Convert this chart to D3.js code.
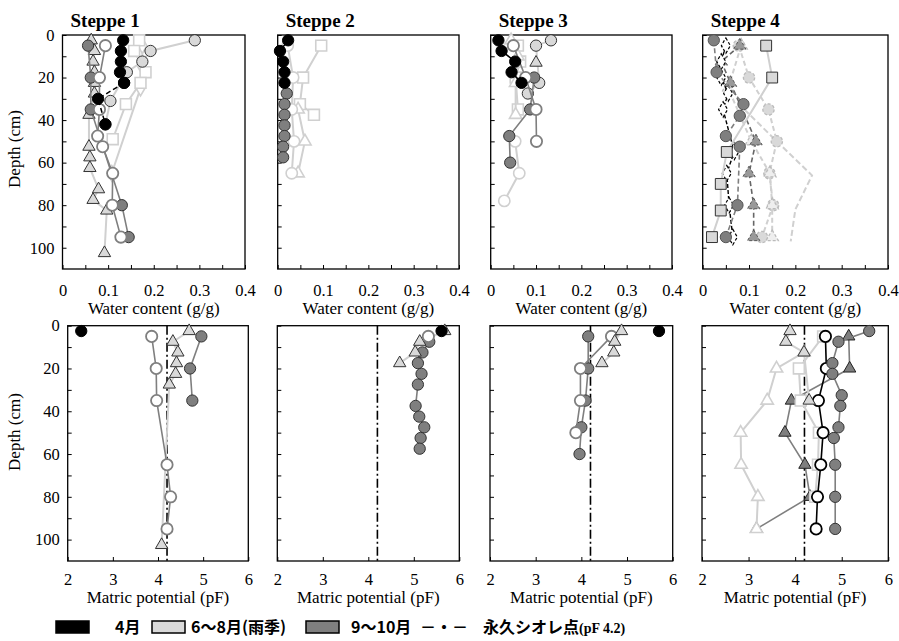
<!DOCTYPE html>
<html><head><meta charset="utf-8">
<script src="https://cdn.jsdelivr.net/npm/d3@7"></script>
<style>body{margin:0;background:#fff}</style>
</head><body><svg id="c" width="899" height="641"></svg>
<script>
// ---------------- DATA ----------------
const panelTitles = ["Steppe 1", "Steppe 2", "Steppe 3", "Steppe 4"];
const depthTicks = [0, 20, 40, 60, 80, 100];
const depthMinor = [0,10,20,30,40,50,60,70,80,90,100];
const wcTicks = [0, 0.1, 0.2, 0.3, 0.4];
const wcMinor = [0,0.05,0.1,0.15,0.2,0.25,0.3,0.35,0.4];
const pfTicks = [2, 3, 4, 5, 6];
const wiltingPoint = 4.2;
const legendLabels = ["4月", "6～8月(雨季)", "9～10月", "永久シオレ点"];
const xTitleTop = "Water content (g/g)";
const xTitleBottom = "Matric potential (pF)";
const yTitle = "Depth (cm)";

// Steppe 1 water content
const w1AprD = [2.5, 7.5, 12.5, 17.5, 22.5];
const w1AprV = [0.133, 0.128, 0.128, 0.126, 0.135];
const w1AprDashD = [22.5, 30, 42];
const w1AprDashV = [0.135, 0.078, 0.094];
const w1RainDotD = [2.5, 7.5, 12.5, 17.5, 31, 42];
const w1RainDotV = [0.29, 0.193, 0.175, 0.141, 0.105, 0.094];
const w1RainBoxD = [2.5, 7.5, 17.5, 22.5, 32.5, 49];
const w1RainBoxV = [0.168, 0.157, 0.182, 0.171, 0.139, 0.11];
const w1RainDiaD = [5, 15, 25, 65];
const w1RainDiaV = [0.175, 0.175, 0.171, 0.108];
const w1RainTriD = [2.5, 7.5, 12.5, 17.5, 22.5, 27.5, 37.5, 52.5, 57.5, 62.5, 72.5, 77.5, 82.5, 102.5];
const w1RainTriV = [0.063, 0.07, 0.067, 0.07, 0.07, 0.07, 0.058, 0.058, 0.06, 0.06, 0.079, 0.067, 0.097, 0.092];
const w1SepDotD = [5, 20, 35, 80, 95];
const w1SepDotV = [0.056, 0.062, 0.062, 0.13, 0.145];
const w1SepRingD = [5, 20, 35, 47.5, 52.5, 65, 80, 95];
const w1SepRingV = [0.094, 0.081, 0.081, 0.077, 0.088, 0.11, 0.109, 0.128];

// Steppe 2 water content
const w2AprD = [2.5, 7.5, 12.5, 17.5, 22.5];
const w2AprV = [0.023, 0.005, 0.012, 0.015, 0.015];
const w2SepDotD = [27.5, 32.5, 37.5, 42.5, 47.5, 52.5, 57.5];
const w2SepDotV = [0.02, 0.015, 0.015, 0.015, 0.015, 0.012, 0.012];
const w2RainBoxD = [5, 20, 32.5, 37.5];
const w2RainBoxV = [0.096, 0.056, 0.049, 0.08];
const w2RainRingD = [5, 20, 35, 50, 65];
const w2RainRingV = [0.022, 0.034, 0.031, 0.036, 0.031];
const w2RainTriD = [35, 50, 65];
const w2RainTriV = [0.045, 0.06, 0.045];

// Steppe 3 water content
const w3AprD = [2.5, 7.5, 12.5, 17.5, 22.5];
const w3AprV = [0.017, 0.024, 0.054, 0.046, 0.068];
const w3RainBoxD = [5, 12.5, 20, 35];
const w3RainBoxV = [0.06, 0.065, 0.055, 0.06];
const w3RainTriOpenD = [2.5, 10, 22.5, 37.5];
const w3RainTriOpenV = [0.045, 0.06, 0.055, 0.055];
const w3RainDotD = [2.5, 5, 22.5, 27.5];
const w3RainDotV = [0.133, 0.1, 0.107, 0.082];
const w3RainRingD = [50, 65, 78];
const w3RainRingV = [0.054, 0.063, 0.03];
const w3RainTriD = [13];
const w3RainTriV = [0.1];
const w3SepRingD = [5, 20, 35, 50];
const w3SepRingV = [0.05, 0.077, 0.1, 0.101];
const w3SepDotD = [20, 35, 47.5, 60];
const w3SepDotV = [0.096, 0.087, 0.041, 0.043];

// Steppe 4 water content
const w4RainFarD = [35, 50, 66, 82, 97];
const w4RainFarV = [0.09, 0.16, 0.236, 0.2, 0.19];
const w4RainDotDashD = [5, 20, 35, 50, 65, 80, 95];
const w4RainDotDashV = [0.078, 0.1, 0.142, 0.16, 0.144, 0.152, 0.128];
const w4RainTriDashD = [5, 25, 50, 65, 80, 95];
const w4RainTriDashV = [0.083, 0.055, 0.105, 0.145, 0.15, 0.15];
const w4SepTriDashD = [5, 12.5, 22.5, 50, 65, 80, 95];
const w4SepTriDashV = [0.08, 0.04, 0.06, 0.115, 0.1, 0.11, 0.11];
const w4BlackDiaD = [5, 12.5, 20, 27.5, 35, 55, 65, 80, 95];
const w4BlackDiaV = [0.05, 0.04, 0.04, 0.055, 0.044, 0.068, 0.052, 0.057, 0.065];
const w4SepDotD = [2.5, 17.5, 32.5, 38, 47.5, 52.5, 80, 95];
const w4SepDotV = [0.024, 0.03, 0.088, 0.08, 0.05, 0.08, 0.075, 0.05];
const w4RainBoxD = [5, 20, 55, 70, 82.5, 95];
const w4RainBoxV = [0.137, 0.15, 0.052, 0.039, 0.039, 0.02];

// Steppe 1 matric potential
const p1AprD = [2.5];
const p1AprV = [2.3];
const p1RainTriD = [2.5, 7.5, 12.5, 17.5, 22.5, 27.5, 102.5];
const p1RainTriV = [4.69, 4.33, 4.44, 4.41, 4.39, 4.25, 4.08];
const p1SepRingD = [5, 20, 35, 65, 80, 95];
const p1SepRingV = [3.86, 3.96, 3.97, 4.2, 4.28, 4.2];
const p1SepDotD = [5, 20, 35];
const p1SepDotV = [4.96, 4.71, 4.76];

// Steppe 2 matric potential
const p2SepDotD = [7.5, 12.5, 17.5, 22.5, 27.5, 37.5, 42.5, 47.5, 52.5, 57.5];
const p2SepDotV = [5.34, 5.19, 5.09, 5.17, 5.09, 5.04, 5.12, 5.23, 5.15, 5.13];
const p2SepRingD = [5];
const p2SepRingV = [5.32];
const p2RainTriD = [2.5, 7.5, 12.5, 17.5];
const p2RainTriV = [5.68, 5.13, 5.03, 4.69];
const p2AprD = [2.5];
const p2AprV = [5.61];

// Steppe 3 matric potential
const p3SepDotD = [5, 20, 35, 47.5, 60];
const p3SepDotV = [4.15, 4.15, 4.09, 4.0, 3.96];
const p3SepRingD = [5, 20, 35, 50];
const p3SepRingV = [4.66, 3.98, 3.98, 3.88];
const p3RainTriD = [2.5, 7.5, 12.5, 17.5];
const p3RainTriV = [4.88, 4.73, 4.71, 4.45];
const p3AprD = [2.5];
const p3AprV = [5.7];

// Steppe 4 matric potential
const p4RainTriOpenD = [12.5, 20, 35, 50, 65, 80, 95];
const p4RainTriOpenV = [4.19, 3.6, 3.4, 2.83, 2.84, 3.2, 3.17];
const p4SepTriD = [5, 20, 35, 50, 65, 80, 95];
const p4SepTriV = [5.15, 5.17, 3.92, 3.78, 4.21, 4.32, 3.17];
const p4SepDotD = [2.5, 7.5, 17.5, 22.5, 32.5, 37.5, 47.5, 52.5, 65, 80, 95];
const p4SepDotV = [5.59, 4.93, 4.8, 4.8, 5.0, 4.97, 4.93, 4.83, 4.86, 4.86, 4.86];
const p4BlackRingD = [5, 20, 35, 50, 65, 80, 95];
const p4BlackRingV = [4.65, 4.67, 4.5, 4.6, 4.55, 4.48, 4.45];
const p4RainBoxD = [5, 20, 35, 50, 65, 80];
const p4RainBoxV = [4.6, 4.08, 4.12, 4.51, 4.49, 4.43];
const p4RainTriD = [2.5, 7.5, 12.5, 35];
const p4RainTriV = [3.89, 3.8, 4.19, 4.3];

// ---------------- STYLES ----------------
const LG = "#d0d0d0", LF = "#d9d9d9", DG = "#7f7f7f";
const styles = {
  apr:      {shape:"circle", fill:"#000", stroke:"#000", sw:1, line:"#000", lw:1.5},
  aprDash:  {shape:"circle", fill:"#000", stroke:"#000", sw:1, line:"#000", lw:1.5, dash:"5,3"},
  rainDot:  {shape:"circle", fill:LF, stroke:"#333", sw:1, line:LG, lw:2},
  rainRing: {shape:"circle", fill:"#fff", stroke:LG, sw:1.6, line:LG, lw:2},
  rainBox:  {shape:"square", fill:"#fff", stroke:LG, sw:1.6, line:LG, lw:2},
  rainBoxF: {shape:"square", fill:LF, stroke:"#333", sw:1, line:LG, lw:2},
  rainTri:  {shape:"triangle", fill:LF, stroke:"#333", sw:1, line:LG, lw:2},
  rainTriO: {shape:"triangle", fill:"#fff", stroke:LG, sw:1.6, line:LG, lw:2},
  rainDia:  {shape:"diamond", fill:"#fff", stroke:LG, sw:1.6, line:LG, lw:2},
  rainDotDash: {shape:"circle", fill:LF, stroke:"#bbb", sw:1.3, line:LG, lw:2, dash:"5,3", mdash:"3,2"},
  rainTriDash: {shape:"triangle", fill:"#eee", stroke:"#bbb", sw:1.3, line:LG, lw:2, dash:"5,3", mdash:"3,2"},
  rainFar:  {shape:null, line:LG, lw:2, dash:"6,3"},
  sepDot:   {shape:"circle", fill:DG, stroke:"#333", sw:1, line:DG, lw:1.6},
  sepDotDash: {shape:"circle", fill:DG, stroke:"#555", sw:1, line:DG, lw:1.6, dash:"5,3"},
  sepRing:  {shape:"circle", fill:"#fff", stroke:DG, sw:1.8, line:DG, lw:1.6},
  sepTri:   {shape:"triangle", fill:DG, stroke:"#222", sw:1, line:DG, lw:1.6},
  sepTriDash: {shape:"triangle", fill:"#999", stroke:"#555", sw:1, line:"#666", lw:1.6, dash:"5,3", mdash:"3,2"},
  blackRing:{shape:"circle", fill:"#fff", stroke:"#000", sw:1.8, line:"#000", lw:1.6},
  blackDia: {shape:"diamond", fill:"#fff", stroke:"#000", sw:1.2, line:"#000", lw:1.4, dash:"4,2", mdash:"3,2"}
};

const wcSeries = [
  [ {s:"rainTri", d:w1RainTriD, v:w1RainTriV}, {s:"rainDia", d:w1RainDiaD, v:w1RainDiaV},
    {s:"rainBox", d:w1RainBoxD, v:w1RainBoxV}, {s:"rainDot", d:w1RainDotD, v:w1RainDotV},
    {s:"sepDot", d:w1SepDotD, v:w1SepDotV}, {s:"sepRing", d:w1SepRingD, v:w1SepRingV},
    {s:"apr", d:w1AprD, v:w1AprV}, {s:"aprDash", d:w1AprDashD, v:w1AprDashV} ],
  [ {s:"rainBox", d:w2RainBoxD, v:w2RainBoxV}, {s:"rainTriO", d:w2RainTriD, v:w2RainTriV},
    {s:"rainRing", d:w2RainRingD, v:w2RainRingV}, {s:"sepDot", d:w2SepDotD, v:w2SepDotV},
    {s:"apr", d:w2AprD, v:w2AprV} ],
  [ {s:"rainBox", d:w3RainBoxD, v:w3RainBoxV}, {s:"rainTriO", d:w3RainTriOpenD, v:w3RainTriOpenV},
    {s:"rainRing", d:w3RainRingD, v:w3RainRingV}, {s:"rainDot", d:w3RainDotD, v:w3RainDotV},
    {s:"rainTri", d:w3RainTriD, v:w3RainTriV}, {s:"sepDot", d:w3SepDotD, v:w3SepDotV},
    {s:"sepRing", d:w3SepRingD, v:w3SepRingV}, {s:"apr", d:w3AprD, v:w3AprV} ],
  [ {s:"rainFar", d:w4RainFarD, v:w4RainFarV}, {s:"rainDotDash", d:w4RainDotDashD, v:w4RainDotDashV},
    {s:"rainTriDash", d:w4RainTriDashD, v:w4RainTriDashV}, {s:"sepTriDash", d:w4SepTriDashD, v:w4SepTriDashV},
    {s:"blackDia", d:w4BlackDiaD, v:w4BlackDiaV}, {s:"sepDotDash", d:w4SepDotD, v:w4SepDotV},
    {s:"rainBoxF", d:w4RainBoxD, v:w4RainBoxV} ]
];
const pfSeries = [
  [ {s:"rainTri", d:p1RainTriD, v:p1RainTriV}, {s:"sepRing", d:p1SepRingD, v:p1SepRingV},
    {s:"sepDot", d:p1SepDotD, v:p1SepDotV}, {s:"apr", d:p1AprD, v:p1AprV} ],
  [ {s:"sepDot", d:p2SepDotD, v:p2SepDotV}, {s:"rainTri", d:p2RainTriD, v:p2RainTriV},
    {s:"sepRing", d:p2SepRingD, v:p2SepRingV}, {s:"apr", d:p2AprD, v:p2AprV} ],
  [ {s:"sepDot", d:p3SepDotD, v:p3SepDotV}, {s:"sepRing", d:p3SepRingD, v:p3SepRingV},
    {s:"rainTri", d:p3RainTriD, v:p3RainTriV}, {s:"apr", d:p3AprD, v:p3AprV} ],
  [ {s:"sepTri", d:p4SepTriD, v:p4SepTriV}, {s:"rainTriO", d:p4RainTriOpenD, v:p4RainTriOpenV},
    {s:"rainBox", d:p4RainBoxD, v:p4RainBoxV}, {s:"blackRing", d:p4BlackRingD, v:p4BlackRingV},
    {s:"sepDot", d:p4SepDotD, v:p4SepDotV}, {s:"rainTri", d:p4RainTriD, v:p4RainTriV} ]
];

// ---------------- LAYOUT ----------------
const topX = [[62.5, 245], [277.7, 459], [490.7, 672], [702.7, 888]];
const botX = [[67.7, 248.3], [277.3, 459.3], [490, 672.7], [702, 888.3]];
const topY = [35, 269], botY = [325.7, 561];
const SERIF = "'Liberation Serif','Times New Roman',serif";
const CJK = "'Noto Sans CJK JP','Noto Sans CJK SC',sans-serif";

const svg = d3.select("#c");

const symType = {circle:d3.symbolCircle, square:d3.symbolSquare, triangle:d3.symbolTriangle, diamond:d3.symbolDiamond};
const symSize = {circle:100, square:118, triangle:66, diamond:70};

function drawPanel(xr, yr, xDomain, xTickVals, xMinor, xFmt, showY, series, labelPad, isPf) {
  const x = d3.scaleLinear().domain(xDomain).range(xr);
  const y = d3.scaleLinear().domain([0, 110]).range(yr);
  const g = svg.append("g");
  const bx = g.append("g").attr("transform", `translate(0,${yr[1]})`)
    .call(d3.axisBottom(x).tickValues(xMinor).tickSize(-4).tickSizeOuter(0)
      .tickPadding(labelPad).tickFormat(v => xTickVals.some(t => Math.abs(t - v) < 1e-9) ? xFmt(v) : ""));
  const ly = g.append("g").attr("transform", `translate(${xr[0]},0)`)
    .call(d3.axisLeft(y).tickValues(depthMinor).tickSize(-4).tickSizeOuter(0).tickPadding(8)
      .tickFormat(v => showY && depthTicks.includes(v) ? v : ""));
  [bx, ly].forEach(a => {
    a.selectAll("text").attr("font-family", SERIF).attr("font-size", 16.5).attr("fill", "#000");
    a.selectAll("line").attr("stroke", "#000").attr("stroke-width", 1);
    a.select(".domain").remove();
  });
  g.append("rect").attr("x", xr[0]).attr("y", yr[0]).attr("width", xr[1]-xr[0]).attr("height", yr[1]-yr[0])
    .attr("fill", "none").attr("stroke", "#000").attr("stroke-width", 1.3);
  if (isPf) {
    g.append("line").attr("x1", x(wiltingPoint)).attr("x2", x(wiltingPoint)).attr("y1", yr[0]).attr("y2", yr[1])
      .attr("stroke", "#000").attr("stroke-width", 1.6).attr("stroke-dasharray", "9,3,2,3");
  }
  const line = d3.line().x(p => x(p[1])).y(p => y(p[0]));
  series.forEach(sr => {
    const st = styles[sr.s];
    const pts = sr.d.map((dd, i) => [dd, sr.v[i]]);
    if (pts.length > 1) {
      g.append("path").attr("d", line(pts)).attr("fill", "none").attr("stroke", st.line)
        .attr("stroke-width", st.lw).attr("stroke-dasharray", st.dash || null);
    }
    if (st.shape) {
      g.selectAll(null).data(pts).enter().append("path")
        .attr("d", d3.symbol().type(symType[st.shape]).size(symSize[st.shape]))
        .attr("transform", p => `translate(${x(p[1])},${y(p[0])})`)
        .attr("fill", st.fill).attr("stroke", st.stroke).attr("stroke-width", st.sw)
        .attr("stroke-dasharray", st.mdash || null);
    }
  });
  return x;
}

const fmtWc = v => v === 0 ? "0" : d3.format(".1f")(v);
const fmtPf = v => String(v);

for (let i = 0; i < 4; i++) {
  drawPanel(topX[i], topY, [0, 0.4], wcTicks, wcMinor, fmtWc, i === 0, wcSeries[i], 15, false);
  svg.append("text").attr("x", topX[i][0] + 8).attr("y", 26.5).text(panelTitles[i])
    .attr("font-family", SERIF).attr("font-weight", "bold").attr("font-size", 19);
  svg.append("text").attr("x", (topX[i][0] + topX[i][1]) / 2).attr("y", 314).attr("text-anchor", "middle")
    .attr("font-family", SERIF).attr("font-size", 17).text(xTitleTop);
  drawPanel(botX[i], botY, [2, 6], pfTicks, pfTicks, fmtPf, i === 0, pfSeries[i], 12, true);
  svg.append("text").attr("x", (botX[i][0] + botX[i][1]) / 2).attr("y", 603).attr("text-anchor", "middle")
    .attr("font-family", SERIF).attr("font-size", 17).text(xTitleBottom);
}
[[149, 20], [432, 20]].forEach(([cy, cx]) => {
  svg.append("text").attr("transform", `translate(${cx},${cy}) rotate(-90)`).attr("text-anchor", "middle")
    .attr("font-family", SERIF).attr("font-size", 17).text(yTitle);
});

// ---------------- LEGEND ----------------
const lg = svg.append("g");
const legY = 621, legH = 12;
const boxes = [[56, "#000", legendLabels[0], 115], [152, LF, legendLabels[1], 191], [306, DG, legendLabels[2], 351]];
boxes.forEach(([bx, fill, lab, tx]) => {
  lg.append("rect").attr("x", bx).attr("y", legY).attr("width", 33).attr("height", legH)
    .attr("fill", fill).attr("stroke", "#000").attr("stroke-width", 1.5);
  lg.append("text").attr("x", tx).attr("y", 633).text(lab)
    .attr("font-family", CJK).attr("font-weight", "bold").attr("font-size", 16);
});
lg.append("text").attr("x", 420).attr("y", 633).text("－・－")
  .attr("font-family", CJK).attr("font-weight", "bold").attr("font-size", 16);
const t4 = lg.append("text").attr("x", 483).attr("y", 633).attr("font-weight", "bold");
t4.append("tspan").attr("font-family", CJK).attr("font-size", 16).text(legendLabels[3]);
t4.append("tspan").attr("font-family", SERIF).attr("font-size", 14).text(`(pF ${wiltingPoint})`);
</script></body></html>
